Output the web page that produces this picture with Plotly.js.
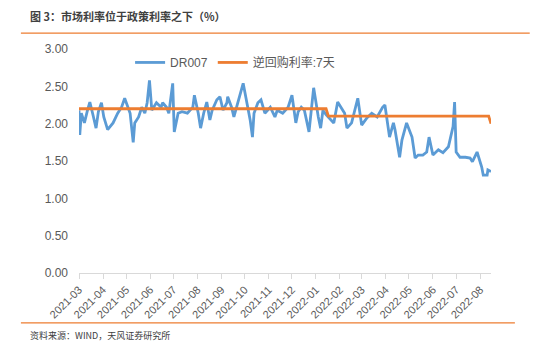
<!DOCTYPE html>
<html>
<head>
<meta charset="utf-8">
<script src="https://cdn.plot.ly/plotly-3.0.1.min.js"></script>
<style>html,body{margin:0;padding:0;background:#fff;}#chart{width:537px;height:354px;}</style>
</head>
<body>
<div id="chart"></div>
<script>
const drDates = ["2021-03-01","2021-03-02","2021-03-04","2021-03-08","2021-03-12","2021-03-15","2021-03-19","2021-03-23","2021-03-26","2021-03-30",
"2021-04-02","2021-04-07","2021-04-14","2021-04-20","2021-04-25","2021-04-29","2021-05-06","2021-05-10","2021-05-12","2021-05-17",
"2021-05-21","2021-05-25","2021-05-28","2021-05-31","2021-06-03","2021-06-09","2021-06-15","2021-06-17","2021-06-22","2021-06-25",
"2021-06-30","2021-07-02","2021-07-07","2021-07-12","2021-07-19","2021-07-26","2021-07-28","2021-08-02","2021-08-05","2021-08-09",
"2021-08-13","2021-08-17","2021-08-20","2021-08-26","2021-08-30","2021-09-03","2021-09-08","2021-09-09","2021-09-14","2021-09-17",
"2021-09-22","2021-09-29","2021-10-08","2021-10-11","2021-10-13","2021-10-18","2021-10-22","2021-10-27","2021-11-03","2021-11-09",
"2021-11-12","2021-11-19","2021-11-26","2021-12-01","2021-12-06","2021-12-09","2021-12-13","2021-12-17","2021-12-23","2021-12-29",
"2022-01-04","2022-01-07","2022-01-10","2022-01-14","2022-01-24","2022-01-29","2022-02-07","2022-02-10","2022-02-16","2022-02-24",
"2022-03-01","2022-03-08","2022-03-14","2022-03-21","2022-03-28","2022-03-31","2022-04-06","2022-04-11","2022-04-13","2022-04-19",
"2022-04-22","2022-04-28","2022-05-05","2022-05-09","2022-05-13","2022-05-19","2022-05-24","2022-05-27","2022-06-01","2022-06-08",
"2022-06-14","2022-06-21","2022-06-27","2022-06-29","2022-07-01","2022-07-06","2022-07-13","2022-07-19","2022-07-22","2022-07-28",
"2022-08-03","2022-08-05","2022-08-10","2022-08-11","2022-08-15"];
const drValues = [2.18,1.85,2.14,2.01,2.18,2.29,2.12,1.94,2.16,2.28,
2.09,1.92,2.01,2.14,2.22,2.34,2.14,1.75,2.01,2.09,
2.22,2.14,2.28,2.58,2.18,2.28,2.22,2.28,2.22,2.14,
2.54,1.89,2.14,2.16,2.14,2.22,2.38,2.14,1.94,2.14,
2.29,2.05,2.18,2.32,2.36,2.18,2.28,2.36,2.22,2.09,
2.28,2.54,2.05,1.82,2.14,2.28,2.32,2.14,2.22,2.09,
2.18,2.14,2.22,2.38,2.01,2.16,2.22,2.18,1.89,2.48,
2.09,1.94,2.18,2.12,2.01,2.29,2.14,1.94,2.01,2.34,
1.98,2.08,2.14,2.09,2.22,2.25,1.82,2.01,1.92,1.55,
1.78,2.01,1.82,1.54,1.58,1.58,1.62,1.82,1.58,1.65,
1.61,1.69,1.96,2.29,1.62,1.55,1.55,1.54,1.49,1.62,
1.42,1.31,1.31,1.38,1.36];
const rrDates = ["2021-03-01","2022-01-14","2022-01-17","2022-08-12","2022-08-15"];
const rrValues = [2.20,2.20,2.10,2.10,2.00];
const seriesNames = ["DR007","逆回购利率:7天"];
const tickDates = ["2021-03-01","2021-04-01","2021-05-01","2021-06-01","2021-07-01","2021-08-01","2021-09-01","2021-10-01","2021-11-01","2021-12-01",
"2022-01-01","2022-02-01","2022-03-01","2022-04-01","2022-05-01","2022-06-01","2022-07-01","2022-08-01"];
const tickLabels = ["2021-03","2021-04","2021-05","2021-06","2021-07","2021-08","2021-09","2021-10","2021-11","2021-12",
"2022-01","2022-02","2022-03","2022-04","2022-05","2022-06","2022-07","2022-08"];
const titleText = "图 3：市场利率位于政策利率之下（%）";
const sourceText = "资料来源：WIND，天风证券研究所";

const FONT = "'Liberation Sans', 'Noto Sans CJK SC', sans-serif";
const traces = [
  {x: drDates, y: drValues, name: seriesNames[0], type: "scatter", mode: "lines",
   line: {color: "#5B9BD5", width: 2.8}},
  {x: rrDates, y: rrValues, name: seriesNames[1], type: "scatter", mode: "lines",
   line: {color: "#ED7D31", width: 2.8}}
];
const layout = {
  width: 537, height: 354,
  margin: {l: 79, r: 46, t: 49, b: 81},
  paper_bgcolor: "#fff", plot_bgcolor: "#fff",
  font: {family: FONT, color: "#595959", size: 12},
  showlegend: true,
  legend: {orientation: "h", x: 0.124, xanchor: "left", y: 0.94, yanchor: "middle",
           font: {family: FONT, size: 12, color: "#595959"}, bgcolor: "rgba(0,0,0,0)",
           itemwidth: 30, tracegroupgap: 0},
  xaxis: {type: "date", range: ["2021-03-01", "2022-08-15"],
          tickvals: tickDates, ticktext: tickLabels, tickangle: -45,
          ticks: "outside", ticklen: 5, tickcolor: "#d9d9d9", tickwidth: 1,
          showline: true, linecolor: "#d9d9d9", linewidth: 1,
          showgrid: false, zeroline: false,
          tickfont: {family: FONT, size: 11, color: "#595959"}},
  yaxis: {range: [0, 3], dtick: 0.5, tick0: 0, tickformat: ".2f",
          showgrid: false, zeroline: false, showline: false,
          ticks: "", ticklabelstandoff: 10,
          tickfont: {family: FONT, size: 12, color: "#595959"}},
  annotations: [
    {text: "<b>" + titleText + "</b>", xref: "paper", yref: "paper", x: -0.125, y: 1.147,
     xanchor: "left", yanchor: "middle", showarrow: false,
     font: {family: "'Noto Sans CJK SC', sans-serif", size: 11, color: "#404040"}},
    {text: sourceText, xref: "paper", yref: "paper", x: -0.125, y: -0.28,
     xanchor: "left", yanchor: "middle", showarrow: false,
     font: {family: "'Noto Sans CJK SC', sans-serif", size: 9, color: "#404040"}}
  ],
  shapes: [
    {type: "line", xref: "paper", yref: "paper", x0: -0.141, x1: 1.094, y0: 1.071, y1: 1.071,
     line: {color: "#ED7D31", width: 1.2}},
    {type: "line", xref: "paper", yref: "paper", x0: -0.141, x1: 1.058, y0: -0.223, y1: -0.223,
     line: {color: "#ED7D31", width: 1.2}}
  ]
};
Plotly.newPlot("chart", traces, layout, {displayModeBar: false, staticPlot: true});
</script>
</body>
</html>
